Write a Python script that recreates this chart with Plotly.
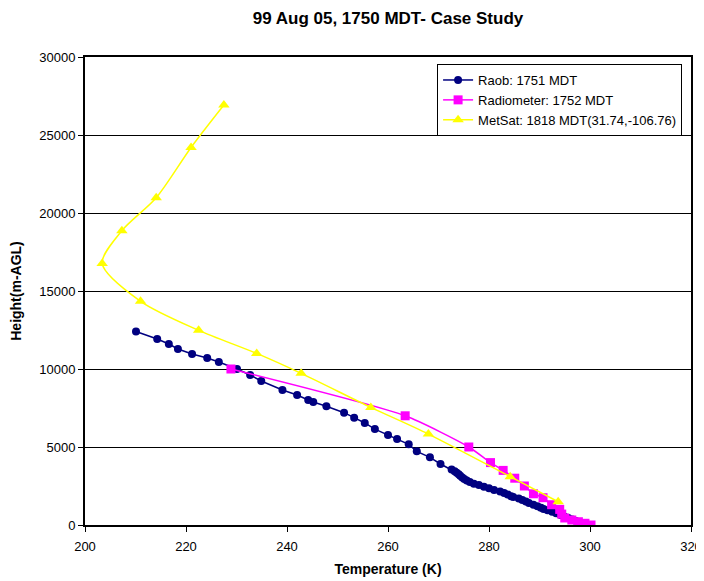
import plotly.graph_objects as go

# Raob: 1751 MDT
raob_temp = [210.1, 214.3, 216.6, 218.4, 221.2, 224.2, 226.5, 230.1, 232.7, 234.9,
             239.1, 242.0, 244.2, 245.2, 247.8, 251.3, 253.3, 255.4, 257.4, 260.0,
             261.8, 264.1, 265.7, 268.3, 270.4, 272.6, 273.2, 273.6, 274.0, 274.3,
             274.7, 275.1, 275.6, 276.2, 277.0, 278.0, 279.0, 280.0, 281.0, 282.2,
             283.0, 283.7, 284.4, 284.8, 285.9, 286.6, 287.3, 287.9, 288.8, 289.6,
             290.3, 290.8, 291.6, 292.5, 293.3, 294.2, 294.9, 295.7, 296.5, 297.2,
             297.8, 298.3, 298.7, 299.0]
raob_height = [12400, 11920, 11600, 11280, 10960, 10700, 10450, 10000, 9615, 9230,
               8650, 8330, 8010, 7880, 7610, 7200, 6880, 6540, 6150, 5770,
               5510, 5170, 4720, 4340, 3910, 3550, 3450, 3350, 3250, 3150,
               3050, 2950, 2850, 2750, 2650, 2560, 2450, 2350, 2250, 2140,
               2050, 1950, 1850, 1790, 1700, 1600, 1500, 1410, 1300, 1200,
               1100, 1030, 950, 850, 750, 640, 550, 450, 350, 260,
               180, 100, 40, 0]

# Radiometer: 1752 MDT
radio_temp = [228.9, 263.4, 276.0, 280.3, 282.8, 285.1, 287.0, 288.8, 290.7, 292.4,
              294.0, 294.4, 295.0, 296.4, 297.7, 299.0, 300.2]
radio_height = [10000, 7000, 5000, 4000, 3500, 3000, 2500, 2000, 1750, 1300,
                1000, 700, 450, 320, 210, 110, 0]

# MetSat: 1818 MDT(31.74,-106.76)
sat_temp = [227.5, 221.0, 214.1, 207.3, 203.4, 211.0, 222.5, 234.0, 242.8, 256.6,
            268.0, 284.2, 293.7]
sat_height = [26920, 24200, 20980, 18870, 16770, 14340, 12480, 11000, 9720, 7540,
              5830, 3100, 1490]

x_ticks = [200, 220, 240, 260, 280, 300, 320]
y_ticks = [0, 5000, 10000, 15000, 20000, 25000, 30000]
y_tick_labels = ["0", "5000", "10000", "15000", "20000", "25000", "30000"]

FONT = "Liberation Sans, Arial, sans-serif"
W, H = 696, 573  # the page body adds an 8px margin

fig = go.Figure()
fig.add_trace(go.Scatter(
    x=raob_temp, y=raob_height, mode="lines+markers", name="Raob: 1751 MDT",
    line=dict(color="#000080", width=1.5),
    marker=dict(symbol="circle", size=8, color="#000080"),
))
fig.add_trace(go.Scatter(
    x=radio_temp, y=radio_height, mode="lines+markers", name="Radiometer: 1752 MDT",
    line=dict(color="#FF00FF", width=1.5, shape="spline", smoothing=0.6),
    marker=dict(symbol="square", size=9, color="#FF00FF"),
))
fig.add_trace(go.Scatter(
    x=sat_temp, y=sat_height, mode="lines+markers", name="MetSat: 1818 MDT(31.74,-106.76)",
    line=dict(color="#FFFF00", width=1.5, shape="spline", smoothing=0.8),
    marker=dict(symbol="triangle-up", size=10, color="#FFFF00"),
))

fig.update_layout(
    width=W, height=H,
    margin=dict(l=77, r=13, t=49, b=56),
    paper_bgcolor="white", plot_bgcolor="white",
    font=dict(family=FONT, size=13, color="black"),
    title=dict(text="<b>99 Aug 05, 1750 MDT- Case Study</b>", x=0.5, xref="paper",
               y=1 - 10 / H, yref="container", yanchor="middle",
               font=dict(size=17, family=FONT)),
    showlegend=True,
    legend=dict(x=0.581, y=0.985, xanchor="left", yanchor="top",
                bordercolor="black", borderwidth=1, bgcolor="white",
                font=dict(size=13, family=FONT), tracegroupgap=0,
                itemwidth=30),
    xaxis=dict(range=[200, 320], tickvals=x_ticks, ticks="outside", ticklen=5,
               tickcolor="black", showgrid=False, zeroline=False, automargin=False,
               showline=True, linecolor="black", linewidth=2, mirror=True,
               ticklabelstandoff=3,
               title=dict(text="<b>Temperature (K)</b>", font=dict(size=14), standoff=12),
               tickfont=dict(size=13)),
    yaxis=dict(range=[0, 30000], tickvals=y_ticks, ticktext=y_tick_labels,
               ticks="outside", ticklen=5, automargin=False,
               tickcolor="black", showgrid=True, gridcolor="black", gridwidth=1,
               zeroline=False, showline=True, linecolor="black", linewidth=2, mirror=True,
               title=dict(text="<b>Height(m-AGL)</b>", font=dict(size=14), standoff=14),
               tickfont=dict(size=13)),
)

fig.write_html("out.html")
